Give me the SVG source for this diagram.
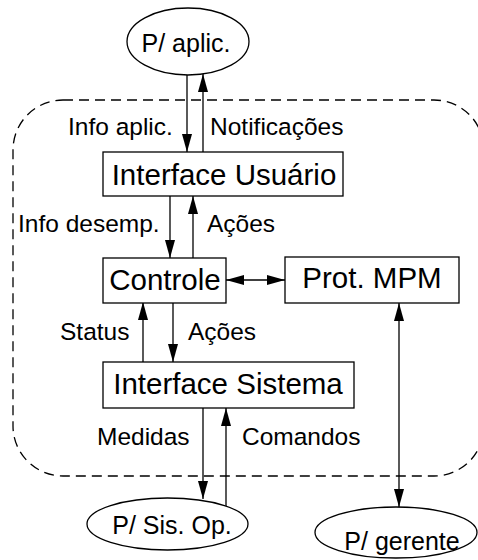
<svg xmlns="http://www.w3.org/2000/svg" width="478" height="560" viewBox="0 0 478 560">
<defs>
<marker id="ah" markerUnits="userSpaceOnUse" markerWidth="18" markerHeight="10" refX="18" refY="5" orient="auto-start-reverse" viewBox="0 0 18 10">
<path d="M0,0 L18,5 L0,10 z" fill="#000"/>
</marker>
<style>
.box{fill:#fff;stroke:#000;stroke-width:1.3}
.ell{fill:#fff;stroke:#000;stroke-width:1.3}
.big{font-family:"Liberation Sans",Arial,sans-serif;font-size:29.5px;fill:#000;text-anchor:middle}
.mid{font-family:"Liberation Sans",Arial,sans-serif;font-size:25px;fill:#000;text-anchor:middle}
.lbl{font-family:"Liberation Sans",Arial,sans-serif;font-size:24.5px;fill:#000}
.ln{stroke:#000;stroke-width:1.3;fill:none}
.a{marker-end:url(#ah)}
.aa{marker-start:url(#ah);marker-end:url(#ah)}
.dash{fill:none;stroke:#000;stroke-width:1.3;stroke-dasharray:10,6}
</style>
</defs>
<rect class="dash" x="13" y="100" width="471" height="376" rx="50" ry="50"/>
<g id="connectors">
<line class="ln a" x1="187" y1="75" x2="187" y2="152"/>
<line class="ln a" x1="203" y1="152" x2="203" y2="74"/>
<line class="ln a" x1="170" y1="196" x2="170" y2="258"/>
<line class="ln a" x1="193" y1="258" x2="193" y2="196"/>
<line class="ln aa" x1="226" y1="280" x2="285" y2="280"/>
<line class="ln a" x1="143" y1="362" x2="143" y2="302"/>
<line class="ln a" x1="173" y1="302" x2="173" y2="362"/>
<line class="ln a" x1="203" y1="408" x2="203" y2="499"/>
<line class="ln a" x1="226" y1="506" x2="226" y2="408"/>
<line class="ln aa" x1="399" y1="303" x2="399" y2="507"/>
<text class="lbl" x="68" y="135">Info aplic.</text>
<text class="lbl" x="210" y="135">Notificações</text>
<text class="lbl" x="18" y="232">Info desemp.</text>
<text class="lbl" x="207" y="232">Ações</text>
<text class="lbl" x="60" y="340">Status</text>
<text class="lbl" x="188" y="340">Ações</text>
<text class="lbl" x="97" y="445">Medidas</text>
<text class="lbl" x="242" y="445">Comandos</text>
</g>
<g id="aplic">
<ellipse class="ell" cx="188" cy="41.5" rx="61" ry="33.5"/>
<text class="mid" x="186" y="52">P/ aplic.</text>
</g>
<g id="iu">
<rect class="box" x="103" y="152" width="240" height="44"/>
<text class="big" x="224" y="185">Interface Usuário</text>
</g>
<g id="controle">
<rect class="box" x="103" y="258" width="123" height="45"/>
<text class="big" x="165" y="290">Controle</text>
</g>
<g id="mpm">
<rect class="box" x="285" y="257" width="174" height="46"/>
<text class="big" x="372" y="288">Prot. MPM</text>
</g>
<g id="is">
<rect class="box" x="103" y="362" width="251" height="46"/>
<text class="big" x="228" y="394">Interface Sistema</text>
</g>
<g id="sisop">
<ellipse class="ell" cx="167.5" cy="524" rx="80.5" ry="26"/>
<text class="mid" x="172" y="534">P/ Sis. Op.</text>
</g>
<g id="gerente">
<ellipse class="ell" cx="396" cy="532.5" rx="81" ry="25.5"/>
<text class="mid" x="402" y="550">P/ gerente</text>
</g>
</svg>
